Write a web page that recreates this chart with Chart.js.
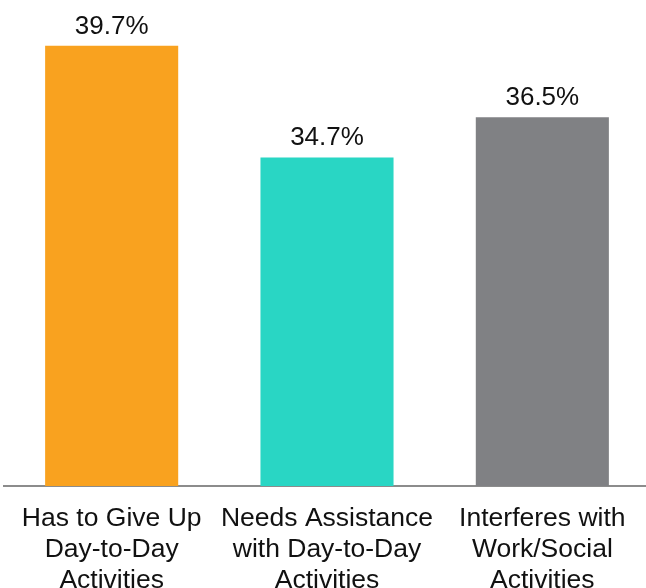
<!DOCTYPE html>
<html>
<head>
<meta charset="utf-8">
<script src="https://cdn.jsdelivr.net/npm/chart.js@4/dist/chart.umd.min.js"></script>
<style>
  html, body { margin: 0; padding: 0; background: #fff; overflow: hidden; }
  #wrap { width: 656px; height: 588px; }
</style>
</head>
<body>
<div id="wrap"><canvas id="c" width="656" height="588"></canvas></div>
<script>
// Categories (multi-line tick labels)
const categories = [
  ["Has to Give Up", "Day-to-Day", "Activities"],
  ["Needs Assistance", "with Day-to-Day", "Activities"],
  ["Interferes with", "Work/Social", "Activities"]
];
// Share of respondents, percent
const values = [39.7, 34.7, 36.5];
const barColors = ["#F9A21F", "#29D6C4", "#808184"];

const FONT = "'Liberation Sans', Arial, Helvetica, sans-serif";

// Draws the percentage above each bar
const valueLabels = {
  id: "valueLabels",
  afterDatasetsDraw(chart) {
    const ctx = chart.ctx;
    const meta = chart.getDatasetMeta(0);
    ctx.save();
    ctx.font = "26px " + FONT;
    ctx.fillStyle = "#111111";
    ctx.textAlign = "center";
    ctx.textBaseline = "alphabetic";
    meta.data.forEach((bar, i) => {
      ctx.fillText(values[i].toFixed(1) + "%", bar.x, bar.y - 12);
    });
    ctx.restore();
  }
};

new Chart(document.getElementById("c"), {
  type: "bar",
  data: {
    labels: categories,
    datasets: [{
      data: values,
      backgroundColor: barColors,
      borderWidth: 0,
      categoryPercentage: 1,
      barPercentage: 0.618
    }]
  },
  options: {
    responsive: false,
    animation: false,
    devicePixelRatio: 1,
    layout: { padding: { left: 4, right: 6, top: 39, bottom: 0 } },
    plugins: {
      legend: { display: false },
      tooltip: { enabled: false }
    },
    scales: {
      x: {
        grid: { display: false, drawTicks: false },
        border: { display: true, color: "#8C8C8C", width: 2 },
        ticks: {
          color: "#111111",
          font: { family: FONT, size: 26.5, lineHeight: 1.17 },
          padding: 17,
          maxRotation: 0,
          autoSkip: false
        },
        afterFit(scale) { scale.height = 102; }
      },
      y: {
        display: false,
        min: 20,
        max: 40
      }
    }
  },
  plugins: [valueLabels]
});
</script>
</body>
</html>
